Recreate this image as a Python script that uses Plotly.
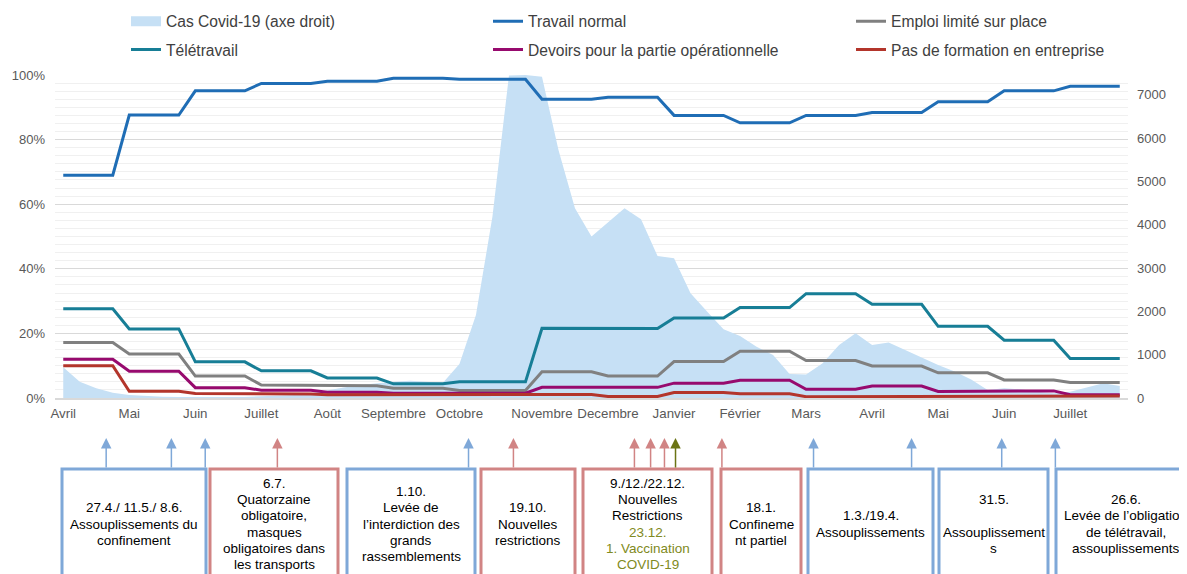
import plotly.graph_objects as go

# ==============================
# DATA
# ==============================

MONTHS = ["Avril", "Mai", "Juin", "Juillet", "Août", "Septembre", "Octobre",
          "Novembre", "Decembre", "Janvier", "Février", "Mars", "Avril", "Mai",
          "Juin", "Juillet"]

# survey weeks per month (one point per week on the category axis)
WEEKS_PER_MONTH = [4, 4, 4, 4, 4, 4, 5, 4, 4, 4, 4, 4, 4, 4, 4, 4]

# monthly shares in % (constant within a month)
travail_normal = [69.0, 87.6, 95.1, 97.4, 98.1, 99.0, 98.7, 92.5,
                  93.1, 87.5, 85.2, 87.5, 88.4, 91.7, 95.1, 96.5]
teletravail = [27.6, 21.4, 11.2, 8.4, 6.2, 4.4, 5.0, 21.6,
               21.5, 24.8, 28.0, 32.3, 29.0, 22.2, 17.9, 12.2]
emploi_limite = [17.2, 13.6, 6.8, 4.0, 3.8, 3.0, 2.3, 8.1,
                 6.8, 11.3, 14.5, 11.6, 9.9, 7.8, 5.6, 4.8]
devoirs = [12.0, 8.3, 3.2, 2.4, 1.8, 1.5, 1.5, 3.3,
           3.3, 4.6, 5.5, 2.7, 3.7, 2.0, 2.2, 1.0]
pas_formation = [10.0, 2.1, 1.4, 1.2, 1.0, 0.9, 0.9, 1.1,
                 0.5, 1.7, 1.3, 0.4, 0.4, 0.6, 0.4, 0.6]

# weekly Covid-19 cases (right axis)
covid_cases = [709, 377, 224, 123, 69, 46, 30, 25, 20, 20, 22, 25, 35, 50, 70, 110,
               185, 245, 300, 340, 377, 400, 377, 354, 785, 1917, 4190, 7450, 7460,
               7420, 5730, 4380, 3730, 4060, 4380, 4130, 3280, 3230, 2420, 1995, 1585,
               1430, 1185, 995, 555, 545, 800, 1225, 1495, 1225, 1280, 1110, 940, 760,
               610, 430, 185, 225, 200, 145, 110, 145, 245, 340, 277]

# measures: position on the week axis and kind
event_x = [2.6, 6.55, 8.6, 12.97, 24.55, 27.27, 34.6, 35.58, 36.42, 37.09,
           39.9, 45.45, 51.39, 56.85, 60.1]
event_kind = ["open", "open", "open", "restr", "open", "restr", "restr", "restr",
              "restr", "vacc", "restr", "open", "open", "open", "open"]

BOXES = [
    (62, 206, "open", ["27.4./ 11.5./ 8.6.", "Assouplissements du", "confinement"]),
    (210, 338, "restr", ["6.7.", "Quatorzaine", "obligatoire,", "masques",
                         "obligatoires dans", "les transports"]),
    (347, 475, "open", ["1.10.", "Levée de", "l’interdiction des", "grands",
                        "rassemblements"]),
    (481, 575, "restr", ["19.10.", "Nouvelles", "restrictions"]),
    (583, 712, "restr", ["9./12./22.12.", "Nouvelles", "Restrictions",
                         ("23.12.", "vacc"), ("1. Vaccination", "vacc"),
                         ("COVID-19", "vacc")]),
    (721, 801, "restr", ["18.1.", "Confineme", "nt partiel"]),
    (808, 933, "open", ["1.3./19.4.", "Assouplissements"]),
    (939, 1048, "open", ["31.5.", "", "Assouplissement", "s"]),
    (1056, 1195, "open", ["26.6.", "Levée de l’obligation", "de télétravail,",
                          "assouplissements"]),
]

# ==============================
# STYLE
# ==============================

FONT = "Liberation Sans, Arial, Helvetica, sans-serif"
KIND_COLOR = {"open": "#7fa8d8", "restr": "#d18484", "vacc": "#6b7414"}
TEXT_COLOR = {"open": "black", "restr": "black", "vacc": "#7f8a22"}

# the page body adds an 8 px margin, so the figure is a bit smaller
# and every screen position is measured from (8, 8)
BODY = 8
W, H = 1187 - BODY, 574 - BODY
PL, PR, PT, PB = 55, 1128, 75, 398   # plot area on screen


def px_x(px):
    return (px - PL) / (PR - PL)


def px_y(py):
    return (PB - py) / (PB - PT)


def expand(monthly):
    return [v for v, n in zip(monthly, WEEKS_PER_MONTH) for _ in range(n)]


weeks = list(range(sum(WEEKS_PER_MONTH)))
month_start = [sum(WEEKS_PER_MONTH[:i]) for i in range(len(MONTHS))]

# ==============================
# BUILD GRAPH
# ==============================

fig = go.Figure()

fig.add_trace(go.Scatter(
    x=weeks, y=covid_cases, yaxis="y",
    mode="lines", fill="tozeroy",
    line=dict(width=0, color="#c6e0f5"),
    fillcolor="#c6e0f5",
    showlegend=False, hoverinfo="skip"
))

# legend swatch for the area
fig.add_trace(go.Scatter(
    x=[None], y=[None], yaxis="y", mode="lines",
    line=dict(color="#c6e0f5", width=12),
    name="Cas Covid-19 (axe droit)", legend="legend", legendgroup="a"
))

series = [
    ("Travail normal", travail_normal, "#1f6db5", "legend2", "b"),
    ("Télétravail", teletravail, "#177e96", "legend", "c"),
    ("Emploi limité sur place", emploi_limite, "#808080", "legend3", "d"),
    ("Devoirs pour la partie opérationnelle", devoirs, "#970a6e", "legend2", "e"),
    ("Pas de formation en entreprise", pas_formation, "#b3352b", "legend3", "f"),
]

for name, vals, color, leg, grp in series:
    fig.add_trace(go.Scatter(
        x=weeks, y=expand(vals), yaxis="y2",
        mode="lines", name=name,
        line=dict(color=color, width=3),
        legend=leg, legendgroup=grp
    ))

# arrows for the measures
for ex, kind in zip(event_x, event_kind):
    fig.add_annotation(
        x=ex, xref="x", y=px_y(438), yref="paper",
        ax=0, ay=31, axref="pixel", ayref="pixel",
        text="", showarrow=True,
        arrowhead=2, arrowsize=1.4, arrowwidth=1.5,
        arrowcolor=KIND_COLOR[kind], standoff=0
    )

# boxes with text
LINE_H = 16.3
TEXT_MID = 524
for x0, x1, kind, lines in BOXES:
    fig.add_shape(
        type="rect", xref="paper", yref="paper",
        x0=px_x(x0), x1=px_x(x1), y0=px_y(469), y1=px_y(620),
        line=dict(color=KIND_COLOR[kind], width=3)
    )
    n = len(lines)
    for k, ln in enumerate(lines):
        txt, tk = (ln, "open") if isinstance(ln, str) else ln
        if not txt:
            continue
        cy = TEXT_MID + (k - (n - 1) / 2) * LINE_H
        fig.add_annotation(
            x=px_x((x0 + x1) / 2), y=px_y(cy), xref="paper", yref="paper",
            text=txt, showarrow=False, xanchor="center", yanchor="middle",
            font=dict(family=FONT, size=13.5, color=TEXT_COLOR[tk])
        )

legend_common = dict(
    orientation="v", xanchor="left", yanchor="top",
    traceorder="grouped", tracegroupgap=5, itemwidth=30,
    bgcolor="rgba(0,0,0,0)",
    font=dict(family=FONT, size=15.6, color="#404040")
)
LEG_TOP = px_y(4.5)

fig.update_layout(
    width=W, height=H,
    margin=dict(l=PL - BODY, r=W - (PR - BODY), t=PT - BODY,
                b=H - (PB - BODY), autoexpand=False),
    plot_bgcolor="white", paper_bgcolor="white",
    font=dict(family=FONT, size=13, color="#595959"),
    legend=dict(x=px_x(126), y=LEG_TOP, **legend_common),
    legend2=dict(x=px_x(488), y=LEG_TOP, **legend_common),
    legend3=dict(x=px_x(851), y=LEG_TOP, **legend_common),
    xaxis=dict(
        range=[-0.5, len(weeks) - 0.5],
        tickmode="array", tickvals=month_start, ticktext=MONTHS,
        showgrid=False, zeroline=False,
        showline=True, linecolor="#d9d9d9", linewidth=1.5,
        ticks="", tickfont=dict(size=13.3, color="#595959"),
        ticklabelstandoff=2
    ),
    yaxis=dict(
        side="right", range=[0, 7460],
        tickmode="array", tickvals=list(range(0, 8000, 1000)),
        showgrid=False, zeroline=False, ticks="",
        tickfont=dict(size=13, color="#595959"),
        ticklabelstandoff=8
    ),
    yaxis2=dict(
        overlaying="y", side="left", range=[0, 100],
        dtick=20, ticksuffix="%",
        showgrid=True, gridcolor="#d9d9d9", gridwidth=1,
        minor=dict(dtick=2.5, showgrid=True, gridcolor="#f0f0f0", gridwidth=1),
        zeroline=False, ticks="",
        tickfont=dict(size=13, color="#595959"),
        ticklabelstandoff=9
    ),
)

fig.write_html("out.html")
